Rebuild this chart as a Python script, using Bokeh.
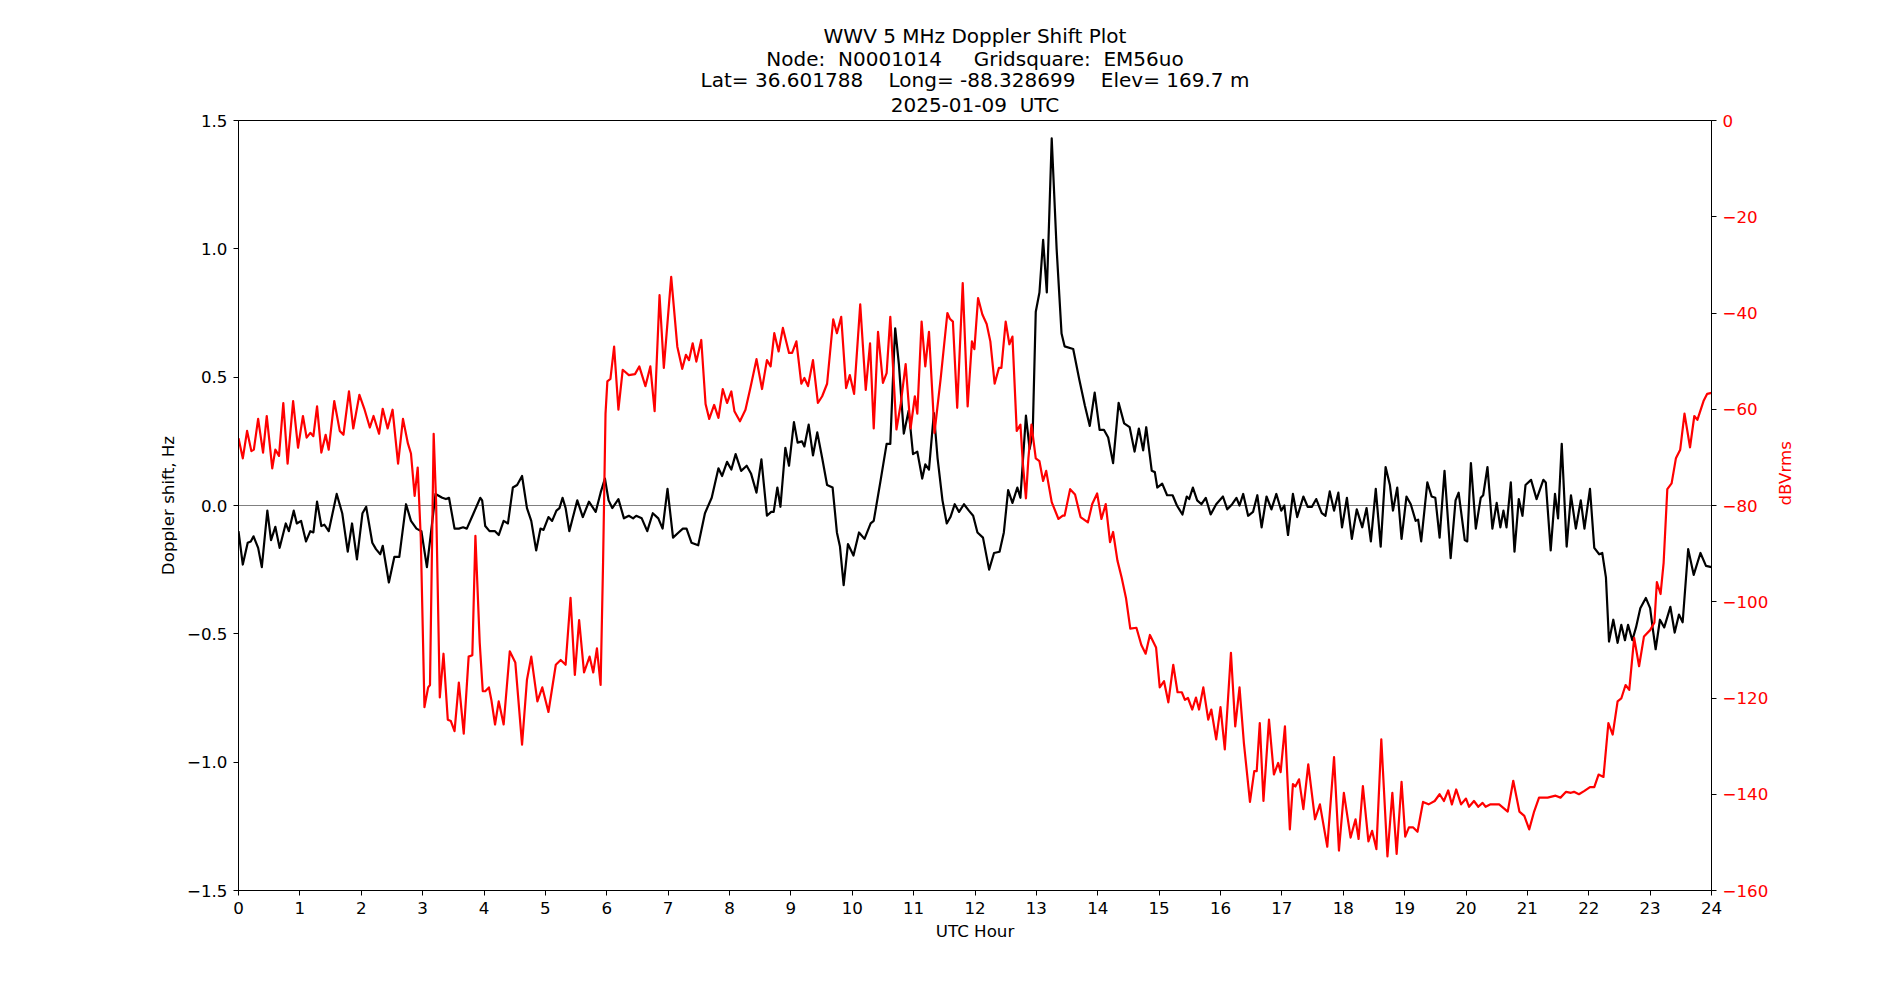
import math
from bokeh.plotting import figure
from bokeh.models import Range1d, LinearAxis, FixedTicker, Span, Title
from bokeh.embed import file_html
from bokeh.resources import INLINE

# ---- Doppler shift (Hz) vs UTC hour ----
dop_hour = [
    0.00, 0.07, 0.15, 0.20, 0.245, 0.32, 0.38, 0.47, 0.53, 0.60, 0.67, 0.77, 0.82, 0.90, 0.95,
    1.02, 1.10, 1.17, 1.22, 1.28, 1.35, 1.40, 1.47, 1.60, 1.69, 1.78, 1.85, 1.93,
    2.02, 2.08, 2.18, 2.24, 2.31, 2.35, 2.45, 2.54, 2.62, 2.73, 2.81, 2.90, 2.98,
    3.07, 3.21, 3.32, 3.38, 3.43, 3.52, 3.59, 3.66, 3.72, 3.83, 3.94, 3.97,
    4.02, 4.09, 4.18, 4.24, 4.32, 4.39, 4.47, 4.54, 4.62, 4.70, 4.77, 4.85, 4.92, 4.97,
    5.05, 5.11, 5.18, 5.23, 5.28, 5.33, 5.39, 5.52, 5.61, 5.71, 5.82, 5.90, 5.97,
    6.03, 6.09, 6.19, 6.28, 6.36, 6.43, 6.48, 6.57, 6.66, 6.75, 6.84, 6.91, 6.99,
    7.08, 7.17, 7.24, 7.30, 7.38, 7.49, 7.60, 7.71, 7.82, 7.88, 7.96,
    8.03, 8.10, 8.19, 8.28, 8.35, 8.44, 8.52, 8.61, 8.68, 8.72, 8.78, 8.83, 8.91, 8.97,
    9.05, 9.11, 9.18, 9.22, 9.29, 9.36, 9.43, 9.51, 9.59, 9.68, 9.75, 9.80, 9.86, 9.93,
    10.02, 10.11, 10.20, 10.30, 10.35, 10.46, 10.56, 10.62, 10.68, 10.70, 10.76, 10.84, 10.92, 10.99,
    11.06, 11.14, 11.19, 11.25, 11.33, 11.39, 11.47, 11.54, 11.60, 11.67, 11.74, 11.82, 11.90, 11.97,
    12.04, 12.13, 12.23, 12.31, 12.40, 12.47, 12.54, 12.61, 12.69, 12.74, 12.83, 12.89, 12.94, 12.99,
    13.05, 13.11, 13.17, 13.25, 13.33, 13.41, 13.46, 13.60, 13.70, 13.79, 13.87, 13.95,
    14.03, 14.10, 14.17, 14.25, 14.34, 14.43, 14.52, 14.60, 14.67, 14.74, 14.79, 14.88, 14.93, 14.97,
    15.05, 15.13, 15.22, 15.29, 15.38, 15.45, 15.49, 15.55, 15.62, 15.69, 15.76, 15.84, 15.93,
    16.04, 16.11, 16.19, 16.26, 16.31, 16.37, 16.45, 16.53, 16.60, 16.67, 16.75, 16.83, 16.91, 16.99,
    17.04, 17.10, 17.18, 17.25, 17.35, 17.42, 17.49, 17.56, 17.65, 17.71, 17.78, 17.85, 17.92, 17.98,
    18.06, 18.14, 18.22, 18.31, 18.38, 18.45, 18.53, 18.61, 18.69, 18.76, 18.81, 18.88, 18.95,
    19.03, 19.10, 19.18, 19.22, 19.27, 19.37, 19.44, 19.50, 19.57, 19.65, 19.75, 19.83, 19.88, 19.98,
    20.02, 20.08, 20.16, 20.24, 20.28, 20.35, 20.43, 20.50, 20.56, 20.61, 20.66, 20.73, 20.79, 20.86, 20.92, 20.97,
    21.06, 21.15, 21.26, 21.30, 21.38, 21.45, 21.50, 21.56, 21.64, 21.71, 21.79, 21.87, 21.93,
    22.02, 22.09, 22.17, 22.22, 22.28, 22.33, 22.40, 22.47, 22.53, 22.59, 22.64, 22.71, 22.77, 22.84, 22.93,
    23.00, 23.04, 23.09, 23.16, 23.23, 23.33, 23.40, 23.47, 23.53, 23.62, 23.71, 23.82, 23.91, 24.00,
]
dop_hz = [
    -0.10, -0.23, -0.145, -0.14, -0.12, -0.165, -0.24, -0.02, -0.135, -0.083, -0.165, -0.07, -0.10, -0.02, -0.07,
    -0.06, -0.14, -0.10, -0.105, 0.015, -0.08, -0.075, -0.10, 0.045, -0.03, -0.18, -0.07, -0.21,
    -0.03, -0.005, -0.145, -0.17, -0.19, -0.157, -0.30, -0.20, -0.20, 0.005, -0.06, -0.09, -0.10,
    -0.24, 0.045, 0.03, 0.025, 0.03, -0.09, -0.09, -0.085, -0.09, -0.03, 0.03, 0.02,
    -0.08, -0.10, -0.10, -0.115, -0.06, -0.07, 0.07, 0.08, 0.115, -0.01, -0.06, -0.175, -0.09, -0.095,
    -0.045, -0.06, -0.02, -0.01, 0.03, -0.01, -0.10, 0.02, -0.045, 0.015, -0.025, 0.05, 0.105,
    0.02, -0.01, 0.025, -0.05, -0.04, -0.05, -0.04, -0.05, -0.10, -0.03, -0.05, -0.09, 0.065,
    -0.125, -0.105, -0.09, -0.09, -0.145, -0.155, -0.03, 0.03, 0.145, 0.115, 0.17,
    0.14, 0.20, 0.135, 0.155, 0.125, 0.05, 0.18, -0.04, -0.025, -0.025, 0.07, -0.005, 0.225, 0.155,
    0.325, 0.245, 0.25, 0.23, 0.315, 0.195, 0.285, 0.185, 0.08, 0.07, -0.105, -0.16, -0.31, -0.15,
    -0.195, -0.105, -0.13, -0.07, -0.06, 0.095, 0.24, 0.24, 0.59, 0.69, 0.55, 0.28, 0.37, 0.20,
    0.21, 0.105, 0.16, 0.14, 0.36, 0.185, 0.02, -0.07, -0.045, 0.005, -0.025, 0.005, -0.02, -0.04,
    -0.105, -0.125, -0.25, -0.185, -0.18, -0.105, 0.06, 0.01, 0.07, 0.03, 0.35, 0.22, 0.28, 0.755,
    0.83, 1.035, 0.83, 1.43, 1.00, 0.67, 0.62, 0.61, 0.49, 0.39, 0.31, 0.44,
    0.295, 0.295, 0.265, 0.165, 0.40, 0.32, 0.305, 0.21, 0.30, 0.215, 0.305, 0.135, 0.13, 0.07,
    0.085, 0.04, 0.04, 0.00, -0.035, 0.035, 0.025, 0.07, 0.02, 0.005, 0.03, -0.035, 0.005,
    0.035, -0.015, 0.005, 0.03, 0.00, 0.045, -0.04, -0.025, 0.04, -0.085, 0.035, -0.015, 0.045, -0.02,
    0.00, -0.115, 0.045, -0.045, 0.035, -0.005, -0.005, 0.025, -0.03, -0.04, 0.055, -0.02, 0.05, -0.085,
    0.03, -0.13, -0.015, -0.085, -0.01, -0.14, 0.065, -0.16, 0.15, 0.08, -0.02, 0.07, -0.13,
    0.035, 0.005, -0.06, -0.055, -0.14, 0.09, 0.035, 0.03, -0.125, 0.135, -0.205, 0.02, 0.05, -0.135,
    -0.14, 0.165, -0.09, 0.03, 0.04, 0.15, -0.09, 0.01, -0.085, -0.02, -0.085, 0.09, -0.18, 0.025, -0.04, 0.08,
    0.10, 0.025, 0.10, 0.09, -0.175, 0.045, -0.05, 0.24, -0.16, 0.04, -0.09, 0.02, -0.09,
    0.065, -0.165, -0.19, -0.185, -0.28, -0.53, -0.445, -0.535, -0.465, -0.525, -0.465, -0.525, -0.475, -0.40, -0.36,
    -0.40, -0.475, -0.56, -0.445, -0.475, -0.395, -0.495, -0.425, -0.455, -0.17, -0.27, -0.185, -0.235, -0.24,
]

# ---- received signal level (dBVrms) vs UTC hour ----
pwr_hour = [
    0.00, 0.07, 0.14, 0.21, 0.25, 0.32, 0.40, 0.46, 0.55, 0.60, 0.66, 0.73, 0.80, 0.89, 0.97,
    1.05, 1.11, 1.17, 1.22, 1.28, 1.35, 1.42, 1.47, 1.56, 1.65, 1.71, 1.80, 1.87, 1.97,
    2.05, 2.14, 2.20, 2.29, 2.35, 2.43, 2.51, 2.60, 2.68, 2.76, 2.81, 2.87, 2.92, 2.97,
    3.03, 3.09, 3.12, 3.18, 3.22, 3.28, 3.34, 3.41, 3.46, 3.52, 3.59, 3.67, 3.75, 3.81, 3.86, 3.93, 3.98,
    4.02, 4.08, 4.12, 4.18, 4.24, 4.32, 4.42, 4.51, 4.62, 4.70, 4.77, 4.87, 4.95,
    5.05, 5.17, 5.25, 5.33, 5.41, 5.48, 5.55, 5.63, 5.72, 5.78, 5.84, 5.90, 5.94, 5.98,
    6.01, 6.06, 6.12, 6.19, 6.26, 6.36, 6.46, 6.53, 6.63, 6.71, 6.78, 6.86, 6.93,
    7.05, 7.15, 7.23, 7.29, 7.34, 7.40, 7.46, 7.54, 7.61, 7.67, 7.75, 7.82, 7.89, 7.96,
    8.03, 8.08, 8.17, 8.26, 8.34, 8.44, 8.53, 8.61, 8.67, 8.73, 8.80, 8.87, 8.97,
    9.02, 9.09, 9.17, 9.22, 9.28, 9.36, 9.44, 9.51, 9.59, 9.69, 9.75, 9.82, 9.90, 9.96,
    10.03, 10.13, 10.22, 10.29, 10.35, 10.42, 10.50, 10.56, 10.62, 10.72, 10.79, 10.87, 10.95,
    11.02, 11.06, 11.13, 11.19, 11.25, 11.34, 11.44, 11.55, 11.59, 11.64, 11.71, 11.80, 11.88, 11.95, 11.99,
    12.05, 12.12, 12.19, 12.25, 12.32, 12.39, 12.43, 12.50, 12.56, 12.61, 12.68, 12.74, 12.78, 12.83, 12.87, 12.92, 12.99,
    13.05, 13.11, 13.16, 13.25, 13.36, 13.43, 13.46, 13.55, 13.63, 13.72, 13.84, 13.91, 13.99,
    14.06, 14.13, 14.20, 14.25, 14.32, 14.39, 14.46, 14.53, 14.63, 14.71, 14.78, 14.85, 14.95,
    15.01, 15.08, 15.15, 15.23, 15.30, 15.37, 15.42, 15.47, 15.54, 15.60, 15.65, 15.72, 15.80, 15.85, 15.93,
    16.00, 16.07, 16.17, 16.24, 16.31, 16.38, 16.48, 16.55, 16.59, 16.64, 16.70, 16.79, 16.87, 16.94, 16.98,
    17.05, 17.13, 17.18, 17.22, 17.28, 17.35, 17.43, 17.54, 17.62, 17.74, 17.85, 17.93,
    18.01, 18.12, 18.20, 18.25, 18.32, 18.41, 18.47, 18.54, 18.62, 18.72, 18.80, 18.87, 18.95,
    19.01, 19.07, 19.14, 19.21, 19.30, 19.39, 19.49, 19.57, 19.64, 19.71, 19.77, 19.84, 19.92,
    20.00, 20.05, 20.13, 20.20, 20.27, 20.32, 20.40, 20.54, 20.68, 20.77, 20.87, 20.95,
    21.03, 21.11, 21.19, 21.33, 21.46, 21.54, 21.63, 21.71, 21.76, 21.84, 21.93,
    22.02, 22.09, 22.16, 22.24, 22.32, 22.39, 22.47, 22.53, 22.60, 22.66, 22.74, 22.82, 22.90,
    23.00, 23.07, 23.11, 23.17, 23.22, 23.28, 23.35, 23.42, 23.49, 23.56, 23.65, 23.72, 23.77, 23.87, 23.93, 24.00,
]
pwr_db = [
    -66.0, -70.2, -64.5, -68.7, -68.4, -62.0, -69.0, -61.4, -72.3, -68.4, -69.7, -58.7, -71.3, -58.3, -68.0,
    -61.4, -65.9, -64.9, -65.6, -59.4, -69.0, -65.3, -68.4, -58.3, -64.5, -65.3, -56.3, -64.0, -57.0,
    -59.9, -63.8, -61.4, -65.1, -59.9, -64.0, -60.1, -71.3, -62.0, -67.1, -69.2, -78.0, -72.1, -86.8,
    -121.9, -117.8, -117.3, -65.1, -79.5, -119.9, -110.8, -124.5, -124.8, -126.9, -116.8, -127.4, -111.4, -111.1, -86.3, -108.5, -118.6,
    -118.6, -117.8, -120.4, -125.5, -120.7, -125.5, -110.3, -112.6, -129.7, -116.2, -111.4, -120.7, -117.8,
    -122.9, -113.1, -112.1, -113.1, -99.2, -115.2, -103.8, -114.7, -111.4, -114.7, -109.7, -117.3, -91.9, -60.9,
    -54.2, -53.7, -47.0, -60.1, -51.8, -52.9, -52.7, -51.1, -55.2, -51.1, -60.4, -36.3, -51.4,
    -32.5, -47.0, -51.6, -48.7, -49.8, -46.3, -50.1, -45.6, -58.9, -62.0, -59.1, -61.8, -55.8, -58.7,
    -56.3, -60.4, -62.5, -60.1, -55.6, -49.6, -55.8, -49.8, -51.1, -44.2, -48.0, -43.1, -48.3,
    -48.3, -45.9, -54.7, -53.5, -55.2, -49.8, -58.7, -57.3, -54.7, -41.3, -44.2, -40.8, -55.6, -52.9,
    -56.8, -38.2, -56.0, -46.3, -64.0, -43.9, -54.5, -52.5, -40.8, -64.2, -58.9, -50.6, -64.0,
    -57.3, -60.9, -41.8, -51.1, -43.9, -64.9, -53.7, -40.0, -41.2, -41.8, -59.7, -33.8, -59.4, -45.9, -47.5,
    -36.9, -40.3, -42.3, -45.9, -54.7, -51.4, -51.4, -41.8, -46.5, -44.9, -64.5, -63.2, -71.3, -78.5, -70.2, -63.2, -70.2,
    -70.8, -74.9, -72.8, -79.3, -82.8, -82.1, -82.1, -76.6, -77.7, -82.4, -83.5, -79.7, -77.5,
    -82.8, -79.7, -87.6, -85.5, -91.4, -95.0, -99.2, -105.6, -105.4, -109.0, -110.8, -106.9, -109.5,
    -117.8, -116.5, -120.9, -113.1, -118.8, -118.8, -120.4, -120.0, -122.4, -119.9, -122.4, -117.8, -124.5, -122.4, -128.6,
    -121.9, -130.7, -110.6, -125.9, -117.8, -129.2, -141.6, -135.2, -135.2, -125.2, -141.4, -124.5, -135.9, -133.5, -135.4,
    -125.9, -147.3, -137.9, -138.4, -136.9, -143.1, -133.8, -145.2, -142.1, -150.9, -132.3, -151.7,
    -139.7, -149.0, -145.2, -149.3, -138.3, -149.8, -147.6, -151.4, -128.6, -152.9, -139.7, -152.4, -137.4,
    -148.8, -146.9, -146.9, -147.8, -141.6, -142.1, -141.4, -140.0, -141.4, -139.2, -142.1, -139.0, -142.1,
    -140.9, -142.6, -141.4, -142.6, -141.8, -142.6, -142.1, -142.1, -143.6, -137.2, -143.6, -144.5,
    -147.3, -143.6, -140.7, -140.7, -140.3, -140.7, -139.5, -139.7, -139.5, -140.0, -139.3,
    -138.5, -138.5, -135.9, -136.4, -125.2, -127.6, -120.7, -120.1, -117.3, -118.3, -107.5, -113.4, -107.2,
    -105.9, -104.3, -95.9, -98.4, -91.9, -76.6, -75.4, -70.2, -68.4, -60.9, -67.9, -61.4, -62.2, -58.3, -56.8, -56.6,
]

hour_ticks = list(range(0, 25))
hz_ticks = [-1.5, -1.0, -0.5, 0.0, 0.5, 1.0, 1.5]
db_ticks = [0, -20, -40, -60, -80, -100, -120, -140, -160]

# runs of spaces are kept with no-break spaces so the SVG text keeps its gaps
NB = "\u00a0"
title_lines = [
    "WWV 5 MHz Doppler Shift Plot",
    f"Node:{NB} N0001014{NB}{NB}{NB}{NB} Gridsquare:{NB} EM56uo",
    f"Lat= 36.601788{NB}{NB}{NB} Long= -88.328699{NB}{NB}{NB} Elev= 169.7 m",
    f"2025-01-09{NB} UTC",
]

FONT = "DejaVu Sans"
TICK_SIZE = "16.7px"
TITLE_SIZE = "20px"


def minus(s):
    return s.replace("-", "\u2212")


p = figure(
    width=1900, height=1000,
    output_backend="svg", toolbar_location=None,
    x_range=Range1d(0, 24), y_range=Range1d(-1.5, 1.5),
    min_border_left=238, min_border_right=189,
    min_border_top=120, min_border_bottom=110,
    x_axis_label="UTC Hour", y_axis_label="Doppler shift, Hz",
)
p.extra_y_ranges = {"db": Range1d(-160, 0)}

p.background_fill_color = "white"
p.border_fill_color = "white"
p.outline_line_color = "black"
p.outline_line_width = 1
p.outline_line_alpha = 1.0
p.xgrid.visible = False
p.ygrid.visible = False


def style_title(t, standoff):
    t.align = "center"
    t.text_font = FONT
    t.text_font_size = TITLE_SIZE
    t.text_font_style = "normal"
    t.text_color = "black"
    t.standoff = standoff


# title block: the figure's own title is the outermost line, the added
# titles stack from the frame outwards (first added sits nearest the frame)
LINE_GAP = -3.5
p.title.text = title_lines[0]
style_title(p.title, LINE_GAP)
for line, gap in ((title_lines[3], 6.5), (title_lines[2], -8.0), (title_lines[1], LINE_GAP)):
    t = Title(text=line)
    style_title(t, gap)
    p.add_layout(t, "above")

# right-hand axis for the signal level
ax_db = LinearAxis(y_range_name="db", axis_label="dBVrms")
p.add_layout(ax_db, "right")


def style_axis(ax, label_color="black"):
    ax.axis_line_color = "black"
    ax.axis_line_width = 1
    ax.major_tick_line_color = "black"
    ax.major_tick_line_width = 1
    ax.major_tick_out = 5
    ax.major_tick_in = 0
    ax.minor_tick_line_color = None
    ax.major_label_text_font = FONT
    ax.major_label_text_font_size = TICK_SIZE
    ax.major_label_text_color = label_color
    ax.major_label_standoff = 6
    ax.axis_label_text_font = FONT
    ax.axis_label_text_font_size = TICK_SIZE
    ax.axis_label_text_font_style = "normal"
    ax.axis_label_text_color = label_color


xax = p.xaxis[0]
yax = p.yaxis[0]
style_axis(xax)
style_axis(yax)
style_axis(ax_db, "red")

xax.ticker = FixedTicker(ticks=hour_ticks)
xax.major_label_overrides = {t: str(t) for t in hour_ticks}
xax.axis_label_standoff = 4

yax.ticker = FixedTicker(ticks=hz_ticks)
yax.major_label_overrides = {t: minus(f"{t:.1f}") for t in hz_ticks}
yax.axis_label_standoff = 6

ax_db.ticker = FixedTicker(ticks=db_ticks)
ax_db.major_label_overrides = {t: minus(str(t)) for t in db_ticks}
ax_db.axis_label_standoff = 14
ax_db.axis_label_orientation = math.pi / 2

# zero reference line
p.add_layout(Span(location=0, dimension="width", line_color="gray",
                  line_width=1, level="underlay"))

p.line(dop_hour, dop_hz, line_color="black", line_width=2.2, line_join="round")
p.line(pwr_hour, pwr_db, y_range_name="db", line_color="red", line_width=2.2,
       line_join="round")

open("out.html", "w").write(file_html(p, INLINE))
